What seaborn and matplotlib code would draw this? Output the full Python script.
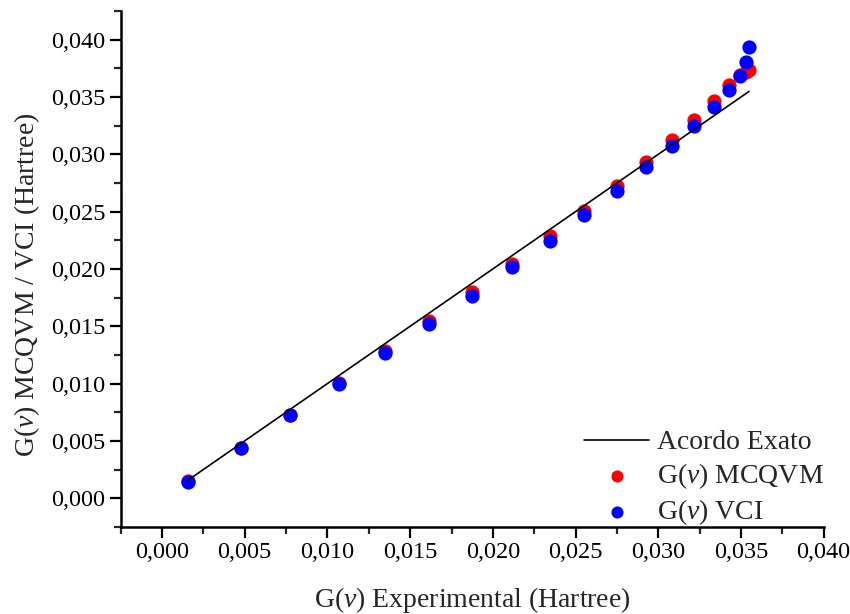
import matplotlib
matplotlib.use('Agg')
import matplotlib.pyplot as plt
import seaborn as sns
import pandas as pd
from matplotlib.ticker import MultipleLocator, FuncFormatter

# valores (Hartree)
g_exp = [0.001554, 0.004758, 0.007721, 0.010683, 0.013464, 0.016125, 0.018724,
         0.021143, 0.023440, 0.025496, 0.027509, 0.029244, 0.030835, 0.032189,
         0.033356, 0.034263, 0.034928, 0.035333, 0.035490]
g_mcqvm = [0.001465, 0.004412, 0.007290, 0.010054, 0.012818, 0.015487, 0.017963,
           0.020431, 0.022846, 0.025079, 0.027259, 0.029352, 0.031270, 0.033014,
           0.034671, 0.036083, 0.036955, 0.037217, 0.037348]
g_vci = [0.001421, 0.004360, 0.007238, 0.009993, 0.012670, 0.015199, 0.017667,
         0.020143, 0.022463, 0.024704, 0.026823, 0.028863, 0.030747, 0.032491,
         0.034148, 0.035578, 0.036798, 0.038019, 0.039380]

df = pd.DataFrame({'exp': g_exp, 'mcqvm': g_mcqvm, 'vci': g_vci})

sns.set_style('ticks')
plt.rcParams['font.family'] = ['Liberation Serif', 'DejaVu Serif']
plt.rcParams['mathtext.fontset'] = 'custom'
plt.rcParams['mathtext.rm'] = 'Liberation Serif'
plt.rcParams['mathtext.it'] = 'Liberation Serif:italic'

fig, ax = plt.subplots(figsize=(8.5, 6.14), dpi=100)
fig.subplots_adjust(left=0.142, right=0.969, top=0.982, bottom=0.142)

# acordo exato: y = x
sns.lineplot(data=df, x='exp', y='exp', color='black', linewidth=1.2,
             label='Acordo Exato', ax=ax)
sns.scatterplot(data=df, x='exp', y='mcqvm', color='red', s=105, linewidth=0,
                label=r'G($\mathit{v}$) MCQVM', ax=ax)
sns.scatterplot(data=df, x='exp', y='vci', color='blue', s=105, linewidth=0,
                label=r'G($\mathit{v}$) VCI', ax=ax)

ax.set_xlim(-0.0025, 0.040)
ax.set_ylim(-0.0025, 0.0425)
ax.xaxis.set_major_locator(MultipleLocator(0.005))
ax.xaxis.set_minor_locator(MultipleLocator(0.0025))
ax.yaxis.set_major_locator(MultipleLocator(0.005))
ax.yaxis.set_minor_locator(MultipleLocator(0.0025))
fmt = FuncFormatter(lambda v, p: f'{v:.3f}'.replace('.', ','))
ax.xaxis.set_major_formatter(fmt)
ax.yaxis.set_major_formatter(fmt)

ax.tick_params(which='major', direction='out', length=8, width=1.6, labelsize=17.5,
               colors='black', pad=3)
ax.tick_params(which='minor', direction='out', length=5, width=1.6)
for s in ['left', 'bottom']:
    ax.spines[s].set_linewidth(1.8)
    ax.spines[s].set_color('black')
sns.despine(ax=ax)

ax.set_xlabel(r'G($\mathit{v}$) Experimental (Hartree)', fontsize=20, labelpad=16)
ax.set_ylabel(r'G($\mathit{v}$) MCQVM / VCI (Hartree)', fontsize=20)
ax.yaxis.set_label_coords(-0.112, 0.469)

ax.legend(loc='lower right', bbox_to_anchor=(1.036, -0.049), frameon=False,
          fontsize=20, handlelength=2.35, labelspacing=0.22, markerscale=0.85,
          handletextpad=0.28)

fig.savefig('out.png', dpi=100)
